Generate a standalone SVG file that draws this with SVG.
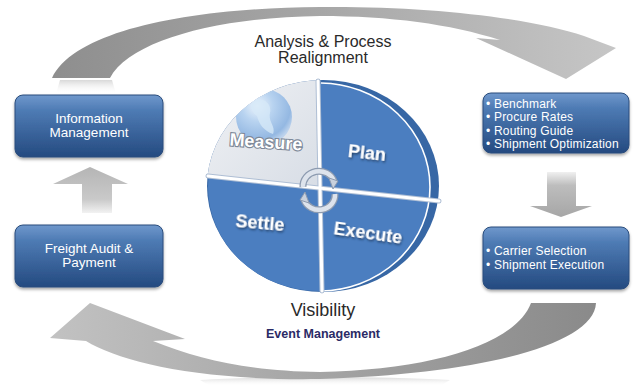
<svg xmlns="http://www.w3.org/2000/svg" width="639" height="386" viewBox="0 0 639 386">
<defs>
<style>
.box{fill:url(#boxg);stroke:#2a4c7c;stroke-width:1;filter:url(#sh)}
.bt{font-family:"Liberation Sans",Arial,sans-serif;font-size:13.5px;fill:#fff;text-anchor:middle}
.lt{font-family:"Liberation Sans",Arial,sans-serif;font-size:12px;fill:#fff;letter-spacing:0.2px}
.wl{font-family:"Liberation Sans",Arial,sans-serif;font-size:18px;font-weight:bold;fill:#fff;text-anchor:middle;filter:url(#tsh)}
.cap{font-family:"Liberation Sans",Arial,sans-serif;fill:#2a2a2a;text-anchor:middle}
.sep1{stroke:#aebed4;stroke-width:5;stroke-linecap:round}
.sep2{stroke:#fff;stroke-width:3;stroke-linecap:round}
</style>
<linearGradient id="boxg" x1="0" y1="0" x2="0" y2="1">
<stop offset="0" stop-color="#7098cc"/>
<stop offset="0.25" stop-color="#4e7bb4"/>
<stop offset="1" stop-color="#244a80"/>
</linearGradient>
<linearGradient id="topArc" x1="0" y1="0" x2="1" y2="0">
<stop offset="0" stop-color="#8e8e8e"/>
<stop offset="0.5" stop-color="#a8a8a8"/>
<stop offset="1" stop-color="#c6c6c6"/>
</linearGradient>
<linearGradient id="botArc" x1="1" y1="0" x2="0" y2="0">
<stop offset="0" stop-color="#8a8a8a"/>
<stop offset="0.5" stop-color="#a4a4a4"/>
<stop offset="1" stop-color="#c2c2c2"/>
</linearGradient>
<linearGradient id="upA" x1="0" y1="0" x2="0" y2="1">
<stop offset="0" stop-color="#b5b5b5"/>
<stop offset="0.7" stop-color="#c9c9c9"/>
<stop offset="1" stop-color="#f2f2f2"/>
</linearGradient>
<linearGradient id="dnA" x1="0" y1="0" x2="0" y2="1">
<stop offset="0" stop-color="#f0f0f0"/>
<stop offset="0.3" stop-color="#bdbdbd"/>
<stop offset="1" stop-color="#a6a6a6"/>
</linearGradient>
<linearGradient id="refl" x1="0" y1="0" x2="0" y2="1">
<stop offset="0" stop-color="#c8c8c8" stop-opacity="0.7"/>
<stop offset="1" stop-color="#ffffff" stop-opacity="0"/>
</linearGradient>
<linearGradient id="meas" x1="0" y1="0" x2="1" y2="1">
<stop offset="0" stop-color="#f4f5f7"/>
<stop offset="1" stop-color="#d5dbe4"/>
</linearGradient>
<radialGradient id="globe" cx="0.38" cy="0.3" r="0.7">
<stop offset="0" stop-color="#eef5fc"/>
<stop offset="0.4" stop-color="#b8d3f0"/>
<stop offset="0.85" stop-color="#94b8e2"/>
<stop offset="1" stop-color="#bcd2ec"/>
</radialGradient>
<clipPath id="disc"><ellipse cx="323" cy="186" rx="116" ry="106"/></clipPath>
<clipPath id="rightHalf"><rect x="321" y="70" width="130" height="230"/></clipPath>
<clipPath id="tlq"><polygon points="190,60 319,60 320,189 190,173"/></clipPath>
<filter id="sh" x="-10%" y="-10%" width="120%" height="140%">
<feDropShadow dx="0" dy="2" stdDeviation="1.5" flood-color="#000" flood-opacity="0.35"/>
</filter>
<filter id="tsh" x="-20%" y="-30%" width="140%" height="170%">
<feDropShadow dx="1" dy="1.5" stdDeviation="0.8" flood-color="#1a2f50" flood-opacity="0.8"/>
</filter>
</defs>
<rect width="639" height="386" fill="#fff"/>

<g id="connectors">
<path d="M60,80 L112,80 L116,94 L56,94 Z" fill="url(#refl)"/>
<path d="M52,78 C75,30 190,8 320,7 C430,6 530,18 584,36 L616,48 L566,79 L476,38 L500,40 C450,24 390,16 320,16 C220,17 130,40 110,78 Z" fill="url(#topArc)"/>
<path d="M200,380 C260,376 380,376 450,380 L440,386 L210,386 Z" fill="url(#refl)"/>
<path d="M596,303 C594,345 480,374 320,379 C200,381 120,362 86,341 L50,338 L90,303 L185,339 L153,341 C200,360 250,371 320,372 C430,370 515,345 531,303 Z" fill="url(#botArc)"/>
<path d="M82,213 L82,184 L53,184 L90,167 L128,184 L112,184 L112,213 Z" fill="url(#upA)"/>
<path d="M547,172 L576,172 L576,206 L592,206 L561,217 L530,206 L547,206 Z" fill="url(#dnA)"/>
</g>

<g id="info-management">
<rect class="box" x="15" y="95" width="148" height="62" rx="8"/>
<text class="bt" x="89" y="123">Information</text>
<text class="bt" x="89" y="137">Management</text>
</g>

<g id="freight-audit">
<rect class="box" x="15" y="225" width="148" height="62" rx="8"/>
<text class="bt" x="89" y="253">Freight Audit &amp;</text>
<text class="bt" x="89" y="267">Payment</text>
</g>

<g id="plan-tasks">
<rect class="box" x="483" y="93" width="146" height="60" rx="8"/>
<text class="lt" x="486" y="107.5">• Benchmark</text>
<text class="lt" x="486" y="121">• Procure Rates</text>
<text class="lt" x="486" y="134.5">• Routing Guide</text>
<text class="lt" x="486" y="148">• Shipment Optimization</text>
</g>

<g id="execute-tasks">
<rect class="box" x="483" y="227" width="146" height="62" rx="8"/>
<text class="lt" x="486" y="255">• Carrier Selection</text>
<text class="lt" x="486" y="268.5">• Shipment Execution</text>
</g>

<g id="analysis-label">
<text class="cap" x="323" y="47" font-size="16">Analysis &amp; Process</text>
<text class="cap" x="323" y="63" font-size="16">Realignment</text>
</g>

<g id="visibility-label">
<text class="cap" x="323" y="316" font-size="18">Visibility</text>
<text x="323" y="338" font-family="Liberation Sans, Arial, sans-serif" font-size="12.5" font-weight="bold" fill="#2b2b66" text-anchor="middle">Event Management</text>
</g>

<g id="wheel">
<ellipse cx="323" cy="186" rx="116" ry="106" fill="#3767a5"/>
<ellipse cx="319" cy="187" rx="111" ry="104" fill="#4b7ec0"/>
<ellipse cx="319" cy="187" rx="111" ry="104" fill="none" stroke="#fff" stroke-width="1.6" clip-path="url(#rightHalf)"/>
<g clip-path="url(#disc)">
<rect x="190" y="60" width="140" height="140" fill="url(#meas)" clip-path="url(#tlq)"/>
<g clip-path="url(#tlq)">
<circle cx="264" cy="117" r="28" fill="url(#globe)"/>
<path d="M254,100 C264,97 272,104 270,113 C268,122 276,126 273,134 C264,131 259,124 257,116 C251,112 249,104 254,100 Z" fill="#d6e8f8" opacity="0.8"/>
</g>
</g>
<line class="sep1" x1="318" y1="81" x2="322" y2="291"/>
<line class="sep1" x1="208" y1="176" x2="439" y2="201"/>
<line class="sep2" x1="318" y1="81" x2="322" y2="291"/>
<line class="sep2" x1="208" y1="176" x2="439" y2="201"/>
<g id="cycle-icon" fill="none" stroke-linecap="butt">
<path d="M303,187 A16,15 0 0 1 334,181" stroke="#8d9bb0" stroke-width="7"/>
<path d="M303,187 A16,15 0 0 1 334,181" stroke="#dde3ec" stroke-width="4.5"/>
<path d="M335,194 A16,15 0 0 1 304,200" stroke="#8d9bb0" stroke-width="7"/>
<path d="M335,194 A16,15 0 0 1 304,200" stroke="#dde3ec" stroke-width="4.5"/>
<path d="M329,178 L338,181 L333,189 Z" fill="#c9d1dd" stroke="#8d9bb0" stroke-width="1" stroke-linejoin="round"/>
<path d="M309,203 L300,200 L305,192 Z" fill="#c9d1dd" stroke="#8d9bb0" stroke-width="1" stroke-linejoin="round"/>
</g>
<text class="wl" x="266" y="148" transform="rotate(4 266 142)" style="filter:none;stroke:#7d8898;stroke-width:2.2;paint-order:stroke">Measure</text>
<text class="wl" x="367" y="159" transform="rotate(6 367 153)">Plan</text>
<text class="wl" x="260" y="229" transform="rotate(5 260 223)">Settle</text>
<text class="wl" x="368" y="239" transform="rotate(8 368 233)">Execute</text>
</g>
</svg>
